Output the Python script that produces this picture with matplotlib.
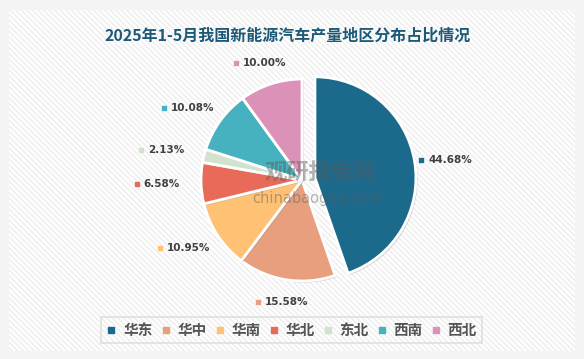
import matplotlib
matplotlib.use("Agg")
import matplotlib.pyplot as plt
import numpy as np
from matplotlib.lines import Line2D
from matplotlib.patches import Rectangle
import matplotlib.patheffects as pe

plt.rcParams["font.family"] = ["Noto Sans CJK SC", "DejaVu Sans"]
plt.rcParams["hatch.linewidth"] = 1.2

# data
regions = ["华东", "华中", "华南", "华北", "东北", "西南", "西北"]
shares = [44.68, 15.58, 10.95, 6.58, 2.13, 10.08, 10.00]
colors = ["#1b6a8c", "#e89f7d", "#ffc274", "#e86b5a", "#d3e2cf", "#46b2bf", "#dc91b8"]
explode = [0.13, 0, 0, 0, 0, 0, 0]

TITLE = "2025年1-5月我国新能源汽车产量地区分布占比情况"
TITLE_C = "#1d5a78"
TXT = "#404040"

W, H = 584, 359
fig = plt.figure(figsize=(W / 100, H / 100), dpi=100)
fig.patch.set_facecolor("#f4f4f4")
ax = fig.add_axes([0, 0, 1, 1])

cx, cy, R = 302, 179, 101
wedges, _ = ax.pie(shares, colors=colors, explode=[e * R for e in explode],
                   startangle=90, counterclock=False, center=(cx, cy), radius=R,
                   wedgeprops={"edgecolor": "white", "linewidth": 2},
                   frame=True)
ax.set_xlim(0, W)
ax.set_ylim(0, H)
ax.set_aspect("equal")
ax.axis("off")

# card with light diagonal stripes
ax.add_patch(Rectangle((9, 8), 566, 341, facecolor="white", edgecolor="#efefef",
                       linewidth=0, hatch="\\\\\\\\\\\\", zorder=0))

for w in wedges:
    w.set_zorder(2)
    w.set_path_effects([pe.SimplePatchShadow(offset=(1.2, -1.2), shadow_rgbFace="#888888",
                                             alpha=0.35), pe.Normal()])

# outside labels with coloured square
for w, v, c in zip(wedges, shares, colors):
    mid = np.deg2rad((w.theta1 + w.theta2) / 2)
    lx = cx + 1.42 * R * np.cos(mid)
    ly = cy + 1.22 * R * np.sin(mid)
    ax.plot(lx - 22, ly, marker="s", color=c, markersize=3, ls="", zorder=4)
    ax.text(lx - 15, ly, f"{v:.2f}%", ha="left", va="center", fontsize=7.5,
            fontweight="bold", color=TXT, family="DejaVu Sans", zorder=4)

# watermark
ax.text(320, 359 - 173, "观研报告网", ha="center", va="center", fontsize=16,
        fontweight="bold", color="#5a5a5a", alpha=0.45, zorder=5)
ax.text(317, 359 - 198, "chinabaogao.com", ha="center", va="center", fontsize=10.5,
        color="#5a5a5a", alpha=0.45, family="DejaVu Sans", zorder=5)

fig.text(288 / W, 1 - 36 / H, TITLE, ha="center", va="center", fontsize=11.5,
         fontweight="bold", color=TITLE_C)

handles = [Line2D([], [], marker="s", ls="", color=c, markersize=5) for c in colors]
leg = fig.legend(handles, regions, loc="center", bbox_to_anchor=(291.5 / W, 1 - 330 / H),
                 ncol=7, frameon=True, fancybox=False,
                 handlelength=0.7, handletextpad=0.45, columnspacing=0.55,
                 borderpad=0.35, labelcolor="#555555",
                 prop={"weight": "bold", "size": 10.5})
leg.get_frame().set_edgecolor("#d9d9d9")
leg.get_frame().set_facecolor("none")
leg.get_frame().set_linewidth(1.2)

fig.savefig("out.png", dpi=100, facecolor=fig.get_facecolor())
